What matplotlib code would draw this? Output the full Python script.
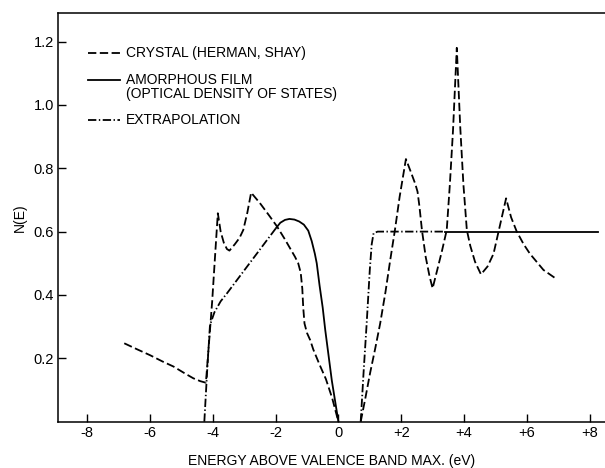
import numpy as np
import matplotlib
matplotlib.use("Agg")
import matplotlib.pyplot as plt

plt.rcParams['font.family'] = ['Liberation Sans', 'DejaVu Sans']
plt.rcParams['lines.scale_dashes'] = False

# crystal DOS (Herman, Shay), below and above the gap
crystal_lo_e = [-6.82, -6.4, -6.0, -5.6, -5.25, -4.9, -4.62, -4.4, -4.22, -4.12, -4.02, -3.93,
                -3.84, -3.75, -3.65, -3.55, -3.47, -3.3, -3.15, -3.03, -2.9, -2.78, -2.5, -2.2,
                -1.96, -1.7, -1.38, -1.28, -1.2, -1.15, -1.12, -1.08, -1.0, -0.9, -0.8, -0.6,
                -0.4, -0.2, 0.0]
crystal_lo_n = [0.2475, 0.228, 0.21, 0.19, 0.174, 0.153, 0.137, 0.128, 0.123, 0.25, 0.38, 0.52,
                0.658, 0.60, 0.565, 0.545, 0.54, 0.56, 0.58, 0.605, 0.66, 0.723, 0.69, 0.65,
                0.617, 0.575, 0.52, 0.50, 0.47, 0.42, 0.36, 0.31, 0.28, 0.258, 0.228, 0.18,
                0.135, 0.075, 0.0]
crystal_hi_e = [0.71, 0.85, 1.01, 1.17, 1.33, 1.5, 1.65, 1.8, 1.95, 2.15, 2.3, 2.45, 2.52, 2.58,
                2.66, 2.78, 2.9, 3.0, 3.15, 3.3, 3.45, 3.55, 3.65, 3.77, 3.88, 3.98, 4.09, 4.2,
                4.35, 4.54, 4.75, 4.94, 5.1, 5.34, 5.5, 5.68, 5.9, 6.1, 6.53, 6.95]
crystal_hi_n = [0.0, 0.07, 0.154, 0.23, 0.31, 0.41, 0.51, 0.605, 0.71, 0.829, 0.79, 0.75, 0.726,
                0.68, 0.605, 0.52, 0.46, 0.421, 0.48, 0.54, 0.605, 0.75, 0.92, 1.18, 0.93, 0.75,
                0.605, 0.555, 0.505, 0.465, 0.49, 0.53, 0.6, 0.705, 0.645, 0.6, 0.56, 0.53,
                0.479, 0.45]

# amorphous film (optical density of states)
amorph_lo_e = [-1.98, -1.85, -1.7, -1.56, -1.4, -1.25, -1.1, -0.96, -0.85, -0.75, -0.69, -0.6,
               -0.5, -0.42, -0.21, 0.0]
amorph_lo_n = [0.612, 0.628, 0.637, 0.64, 0.638, 0.632, 0.622, 0.603, 0.57, 0.53, 0.50, 0.43,
               0.36, 0.29, 0.13, 0.0]
amorph_hi_e = [3.4, 8.27]
amorph_hi_n = [0.6, 0.6]

# extrapolation
extrap_lo_e = [-4.27, -4.18, -4.09, -3.95, -3.75, -3.55, -1.98]
extrap_lo_n = [0.0, 0.16, 0.305, 0.345, 0.38, 0.405, 0.612]
extrap_hi_e = [0.71, 0.8, 0.9, 1.0, 1.06, 1.12, 1.25, 3.4]
extrap_hi_n = [0.0, 0.153, 0.31, 0.48, 0.56, 0.595, 0.6, 0.6]

x_ticks = [-8, -6, -4, -2, 0, 2, 4, 6, 8]
x_ticklabels = ['-8', '-6', '-4', '-2', '0', '+2', '+4', '+6', '+8']
y_ticks = [0.2, 0.4, 0.6, 0.8, 1.0, 1.2]
y_ticklabels = ['0.2', '0.4', '0.6', '0.8', '1.0', '1.2']

dashed = (0, (6, 2.5))
dashdot = (0, (6, 1.8, 1, 1.8))
lw = 1.3

fig = plt.figure(figsize=(6.05, 4.68), dpi=100)
ax = fig.add_axes([58 / 605, 1 - 421.7 / 468, 547 / 605, 408.7 / 468])

ax.plot(crystal_lo_e, crystal_lo_n, color='black', lw=lw, ls=dashed)
ax.plot(crystal_hi_e, crystal_hi_n, color='black', lw=lw, ls=dashed)
ax.plot(amorph_lo_e, amorph_lo_n, color='black', lw=lw, ls='-')
ax.plot(amorph_hi_e, amorph_hi_n, color='black', lw=lw, ls='-')
ax.plot(extrap_lo_e, extrap_lo_n, color='black', lw=lw, ls=dashdot)
ax.plot(extrap_hi_e, extrap_hi_n, color='black', lw=lw, ls=dashdot)

ax.set_xlim(-8.93, 8.49)
ax.set_ylim(0, 1.29)
ax.set_xticks(x_ticks)
ax.set_xticklabels(x_ticklabels)
ax.set_yticks(y_ticks)
ax.set_yticklabels(y_ticklabels)
ax.tick_params(direction='in', length=6, width=1, labelsize=10.5, pad=3)
ax.spines['right'].set_visible(False)
for s in ['left', 'bottom', 'top']:
    ax.spines[s].set_linewidth(1.1)

ax.set_xlabel('ENERGY ABOVE VALENCE BAND MAX. (eV)', fontsize=10, labelpad=10)
ax.set_ylabel('N(E)', fontsize=10, labelpad=5)

# hand-drawn legend, as in the original figure
legend_rows = [(0.902, dashed, 'CRYSTAL (HERMAN, SHAY)'),
               (0.836, '-', 'AMORPHOUS FILM'),
               (0.738, dashdot, 'EXTRAPOLATION')]
for y, style, label in legend_rows:
    ax.plot([0.055, 0.113], [y, y], transform=ax.transAxes, color='black', lw=lw, ls=style)
    ax.text(0.124, y, label, transform=ax.transAxes, fontsize=10, va='center')
ax.text(0.124, 0.801, '(OPTICAL DENSITY OF STATES)', transform=ax.transAxes, fontsize=10,
        va='center')

fig.savefig('out.png', dpi=100)
